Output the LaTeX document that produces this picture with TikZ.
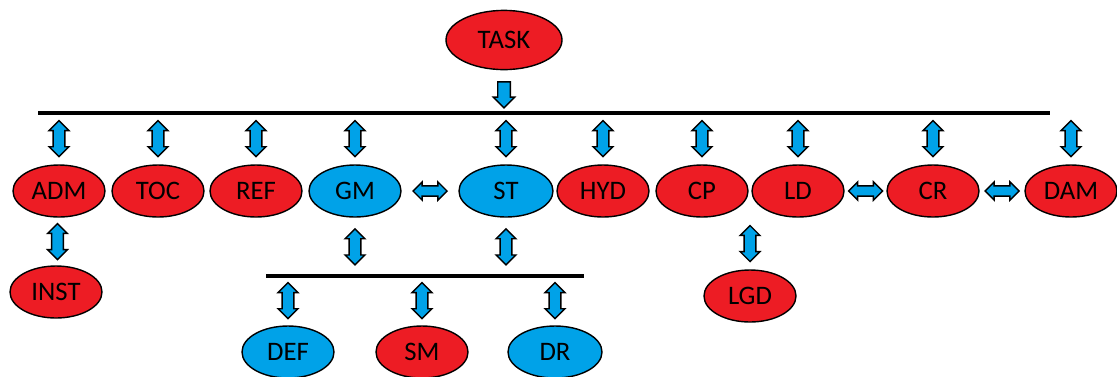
\documentclass[tikz,border=0pt]{standalone}
\usepackage{fontspec}
\setmainfont{Carlito}
\usetikzlibrary{shapes.geometric, shapes.arrows, positioning, calc}
\definecolor{nodered}{RGB}{237, 28, 36}
\definecolor{nodeblue}{RGB}{0, 162, 232}

\begin{document}
\begin{tikzpicture}[
  ell/.style={ellipse, draw=black, line width=1pt, minimum width=2.3cm, minimum height=1.3cm, inner sep=0pt, font=\fontsize{19}{22}\selectfont},
  redell/.style={ell, fill=nodered},
  blueell/.style={ell, fill=nodeblue},
  bus/.style={line width=2.5pt},
  udarrow/.style={double arrow, shape border rotate=90, draw=black, fill=nodeblue, line width=1pt, minimum height=0.9cm, double arrow head extend=0.1cm, inner sep=0.13cm},
  lrarrow/.style={udarrow, shape border rotate=0, minimum height=0.85cm, inner sep=0.11cm},
  dnarrow/.style={single arrow, shape border rotate=270, draw=black, fill=nodeblue, line width=1pt, minimum height=0.65cm, single arrow head extend=0.11cm, inner sep=0.14cm}
]
  \useasboundingbox (0,0) rectangle (27.925,-9.4);

  \node[redell, minimum width=2.9cm, minimum height=1.48cm] (task) at (12.6,-1.0) {TASK};

  \coordinate (busL) at (0.95,-2.825);
  \coordinate (busR) at (26.25,-2.825);
  \draw[bus] (busL) -- (busR);

  \node[redell] (adm) at (1.475,-4.775) {ADM};
  \node[redell] (toc) at (3.95,-4.775) {TOC};
  \node[redell] (ref) at (6.4,-4.775) {REF};
  \node[blueell] (gm) at (8.875,-4.775) {GM};
  \node[blueell, minimum width=2.35cm] (st) at (12.65,-4.775) {ST};
  \node[redell] (hyd) at (15.075,-4.775) {HYD};
  \node[redell] (cp) at (17.55,-4.775) {CP};
  \node[redell] (ld) at (19.95,-4.775) {LD};
  \node[redell] (cr) at (23.325,-4.775) {CR};
  \node[redell] (dam) at (26.775,-4.775) {DAM};

  \node[redell] (inst) at (1.4,-7.3) {INST};
  \node[redell] (lgd) at (18.75,-7.4) {LGD};

  \coordinate (subL) at (6.65,-6.9);
  \coordinate (subR) at (14.6,-6.9);
  \draw[bus] (subL) -- (subR);

  \node[blueell] (def) at (7.2,-8.8) {DEF};
  \node[redell] (sm) at (10.55,-8.8) {SM};
  \node[blueell, minimum width=2.35cm] (dr) at (13.875,-8.8) {DR};

  % task to bus
  \node[dnarrow] at ($(task.south)!0.5!(task.south |- busL)$) {};

  % bus to first row
  \node[udarrow] at ($(adm.north)!0.5!(adm.north |- busL)$) {};
  \node[udarrow] at ($(toc.north)!0.5!(toc.north |- busL)$) {};
  \node[udarrow] at ($(ref.north)!0.5!(ref.north |- busL)$) {};
  \node[udarrow] at ($(gm.north)!0.5!(gm.north |- busL)$) {};
  \node[udarrow] at ($(st.north)!0.5!(st.north |- busL)$) {};
  \node[udarrow] at ($(hyd.north)!0.5!(hyd.north |- busL)$) {};
  \node[udarrow] at ($(cp.north)!0.5!(cp.north |- busL)$) {};
  \node[udarrow] at ($(ld.north)!0.5!(ld.north |- busL)$) {};
  \node[udarrow] at ($(cr.north)!0.5!(cr.north |- busL)$) {};
  \node[udarrow] at ($(dam.north)!0.5!(dam.north |- busL)$) {};

  % sideways links
  \node[lrarrow] at ($(gm.east)!0.5!(st.west)$) {};
  \node[lrarrow] at ($(ld.east)!0.5!(cr.west)$) {};
  \node[lrarrow] at ($(cr.east)!0.5!(dam.west)$) {};

  % lower links
  \node[udarrow] at ($(adm.south)!0.5!(inst.north)$) {};
  \node[udarrow] at ($(lgd.north)!0.5!(lgd.north |- cp.south)$) {};
  \node[udarrow] at ($(gm.south)!0.5!(gm.south |- subL)$) {};
  \node[udarrow] at ($(st.south)!0.5!(st.south |- subL)$) {};
  \node[udarrow] at ($(def.north)!0.5!(def.north |- subL)$) {};
  \node[udarrow] at ($(sm.north)!0.5!(sm.north |- subL)$) {};
  \node[udarrow] at ($(dr.north)!0.5!(dr.north |- subL)$) {};

\end{tikzpicture}
\end{document}
